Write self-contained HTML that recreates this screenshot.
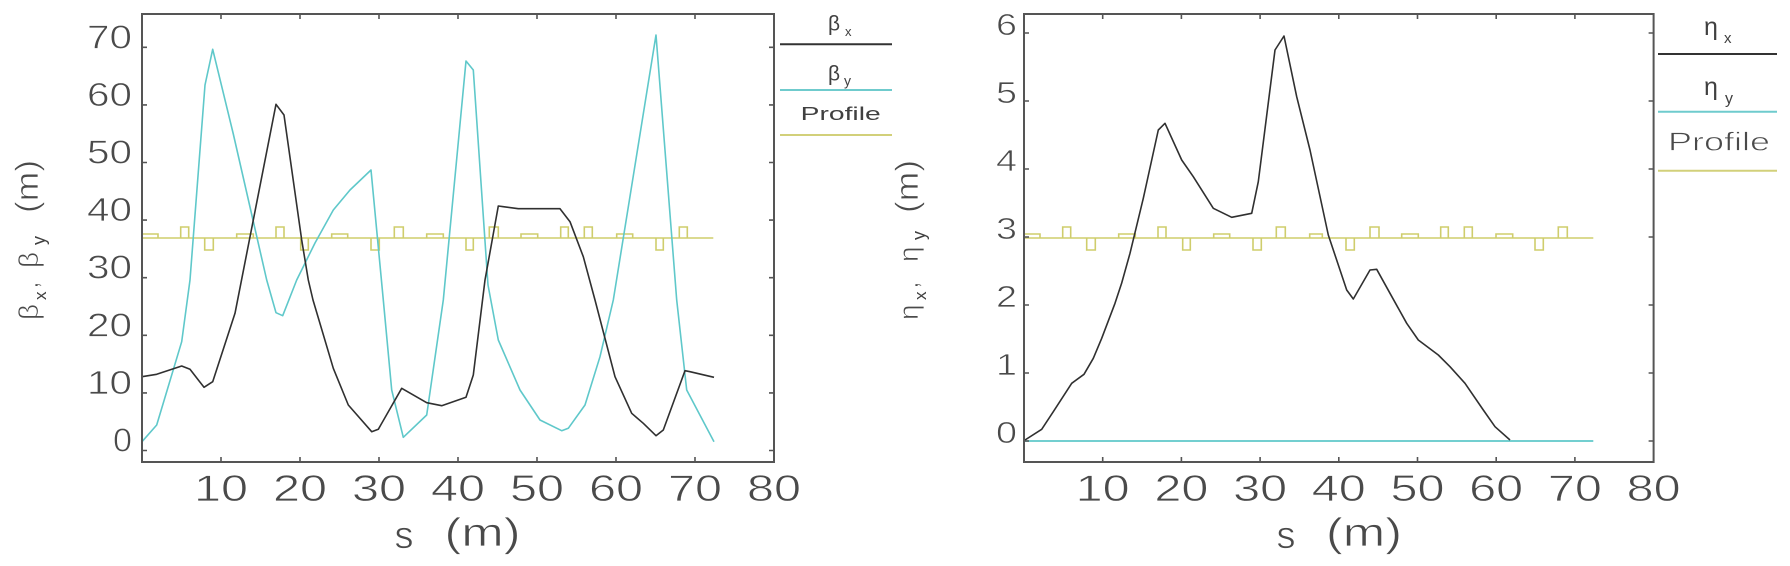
<!DOCTYPE html>
<html>
<head>
<meta charset="utf-8">
<style>
html,body{margin:0;padding:0;background:#fff;}
svg{display:block;}
text{font-family:"Liberation Sans","DejaVu Sans",sans-serif;fill:#4a4a4a;stroke:#fff;stroke-width:0.7px;}
text.s{stroke:none;fill:#404040;}
</style>
</head>
<body>
<svg width="1790" height="566" viewBox="0 0 1790 566" xmlns="http://www.w3.org/2000/svg">
<rect width="1790" height="566" fill="#fff"/>

<!-- ================= LEFT PLOT ================= -->
<path d="M142,238 V234 H158 V238 H180.7 V227 H188.7 V238 H204.7 V250 H213.3 V238 H236.7 V234 H253.3 V238 H276 V227 H284 V238 H300.7 V250 H308.3 V238 H331.7 V234 H347.7 V238 H371 V250 H379.3 V238 H394.3 V227 H403.3 V238 H426.7 V234 H443.3 V238 H466 V250 H473.3 V238 H489.3 V227 H498.3 V238 H521 V234 H537.7 V238 H560.7 V227 H568.3 V238 H584.3 V227 H592.3 V238 H616.7 V234 H632.7 V238 H656 V250 H663.3 V238 H679.3 V227 H687.3 V238 H713.3 M142,238 H713.3" fill="none" stroke="#cfcd6c" stroke-width="1.6"/>
<path d="M142,441.7 L156.7,425 L181.7,341.7 L190,280 L205,85 L212.7,49.3 L233.3,134 L266.7,280 L276,312.7 L282.7,315.7 L296.7,280 L315,243 L333.3,210 L350,190 L371,170 L383.3,300 L391.7,390 L403.3,437.3 L426.7,415 L443.3,300 L466,61 L473.3,70 L488,285 L498.3,340 L520,390 L540,420 L561.7,430.7 L568.3,428.3 L585,405 L600,356.7 L613.3,300 L656,35 L676.7,300 L686.7,390 L714,441.7" fill="none" stroke="#5fc8ca" stroke-width="1.6" stroke-linejoin="round"/>
<path d="M142,376.7 L156.7,374.3 L181.7,366 L190,369.3 L204,387.3 L212.7,381.7 L235,313.3 L276,104.3 L284,115 L301.7,240 L308.3,280 L313,300 L333.3,368.3 L348.3,405 L371.7,431.7 L378.3,429.3 L401.7,388.3 L426.7,402.7 L441.7,405.7 L466,397.3 L473.3,375 L485,280 L498.3,206 L503.3,206.7 L518.3,208.7 L560,208.7 L570,221.7 L583.3,256.7 L595,300 L615,376.7 L631.7,413.3 L643.3,423.3 L656,435.7 L663.3,430 L685,370.7 L690,371.7 L714,377.3" fill="none" stroke="#303030" stroke-width="1.6" stroke-linejoin="round"/>

<rect x="142" y="14" width="632" height="448" fill="none" stroke="#555" stroke-width="2"/>
<g stroke="#555" stroke-width="1.6">
<path d="M221,462 V457 M300,462 V457 M379,462 V457 M458,462 V457 M537,462 V457 M616,462 V457 M695,462 V457"/>
<path d="M221,14 V19 M300,14 V19 M379,14 V19 M458,14 V19 M537,14 V19 M616,14 V19 M695,14 V19"/>
<path d="M142,450.5 H147 M142,392.9 H147 M142,335.3 H147 M142,277.7 H147 M142,220.1 H147 M142,162.5 H147 M142,104.9 H147 M142,47.3 H147"/>
<path d="M774,450.5 H769 M774,392.9 H769 M774,335.3 H769 M774,277.7 H769 M774,220.1 H769 M774,162.5 H769 M774,104.9 H769 M774,47.3 H769"/>
</g>
<g font-size="33" text-anchor="end">
<text x="132" y="451.5" textLength="19" lengthAdjust="spacingAndGlyphs">0</text>
<text x="132" y="393.9" textLength="45" lengthAdjust="spacingAndGlyphs">10</text>
<text x="132" y="336.3" textLength="45" lengthAdjust="spacingAndGlyphs">20</text>
<text x="132" y="278.7" textLength="45" lengthAdjust="spacingAndGlyphs">30</text>
<text x="132" y="221.1" textLength="45" lengthAdjust="spacingAndGlyphs">40</text>
<text x="132" y="163.5" textLength="45" lengthAdjust="spacingAndGlyphs">50</text>
<text x="132" y="105.9" textLength="45" lengthAdjust="spacingAndGlyphs">60</text>
<text x="132" y="48.3" textLength="45" lengthAdjust="spacingAndGlyphs">70</text>
</g>
<g font-size="37" text-anchor="middle">
<text x="221" y="501" textLength="54" lengthAdjust="spacingAndGlyphs">10</text>
<text x="300" y="501" textLength="54" lengthAdjust="spacingAndGlyphs">20</text>
<text x="379" y="501" textLength="54" lengthAdjust="spacingAndGlyphs">30</text>
<text x="458" y="501" textLength="54" lengthAdjust="spacingAndGlyphs">40</text>
<text x="537" y="501" textLength="54" lengthAdjust="spacingAndGlyphs">50</text>
<text x="616" y="501" textLength="54" lengthAdjust="spacingAndGlyphs">60</text>
<text x="695" y="501" textLength="54" lengthAdjust="spacingAndGlyphs">70</text>
<text x="774" y="501" textLength="54" lengthAdjust="spacingAndGlyphs">80</text>
</g>
<text x="404" y="548" font-size="38" text-anchor="middle">s</text>
<text x="482.5" y="546" font-size="40" text-anchor="middle" textLength="76" lengthAdjust="spacingAndGlyphs">(m)</text>
<g transform="translate(38,322) rotate(-90)">
<text x="2" y="0" font-size="28">β</text>
<text class="s" x="22" y="8" font-size="17">x</text>
<text x="33" y="0" font-size="28">,</text>
<text x="54" y="0" font-size="28">β</text>
<text class="s" x="77" y="7" font-size="18">y</text>
<text x="109" y="0" font-size="32" textLength="53" lengthAdjust="spacingAndGlyphs">(m)</text>
</g>
<text class="s" x="828" y="30.6" font-size="21">β</text>
<text class="s" x="845" y="36" font-size="13">x</text>
<line x1="780" y1="44.3" x2="892" y2="44.3" stroke="#333" stroke-width="2"/>
<text class="s" x="828" y="80.6" font-size="21">β</text>
<text class="s" x="844" y="85.6" font-size="14">y</text>
<line x1="780" y1="90" x2="892" y2="90" stroke="#6fcbcd" stroke-width="2"/>
<text class="s" x="840.7" y="120" font-size="18.5" text-anchor="middle" textLength="80" lengthAdjust="spacingAndGlyphs">Profile</text>
<line x1="780" y1="135" x2="892" y2="135" stroke="#d2d07a" stroke-width="2"/>

<!-- ================= RIGHT PLOT ================= -->
<path transform="translate(882,0)" d="M142,238 V234 H158 V238 H180.7 V227 H188.7 V238 H204.7 V250 H213.3 V238 H236.7 V234 H253.3 V238 H276 V227 H284 V238 H300.7 V250 H308.3 V238 H331.7 V234 H347.7 V238 H371 V250 H379.3 V238 H394.3 V227 H403.3 V238 H427.7 V234 H440.3 V238 H464 V250 H472.3 V238 H488 V227 H497 V238 H519.7 V234 H536.3 V238 H558.7 V227 H566.3 V238 H582.3 V227 H590.3 V238 H614 V234 H630.7 V238 H653 V250 H661.3 V238 H676.3 V227 H685.3 V238 H711.3 M142,238 H711.3" fill="none" stroke="#cfcd6c" stroke-width="1.6"/>
<line x1="1024" y1="441" x2="1593.3" y2="441" stroke="#5fc8ca" stroke-width="1.8"/>
<path d="M1025,440 L1041.7,429.3 L1053.3,411.7 L1071.7,383.3 L1084,374.3 L1093.3,358.3 L1101.7,338.3 L1115,303.3 L1121.7,283 L1130,253.3 L1143.3,198.3 L1158.3,130 L1165,123.3 L1181.7,160 L1193.3,176.7 L1213.3,208.3 L1231.7,217.3 L1251.7,213.3 L1258.3,181.7 L1275,50 L1284,36 L1296.7,96.7 L1310,150 L1328.3,235 L1346.7,290 L1353.3,299 L1370,270 L1376.7,269.3 L1390,293.3 L1406.7,323.3 L1418.3,340 L1438.3,355 L1450,366.7 L1465,383.3 L1483.3,410 L1495,426.7 L1510,440" fill="none" stroke="#303030" stroke-width="1.6" stroke-linejoin="round"/>

<rect x="1024" y="14" width="629.6" height="448" fill="none" stroke="#555" stroke-width="2"/>
<g stroke="#555" stroke-width="1.6">
<path d="M1102.7,462 V457 M1181.4,462 V457 M1260.1,462 V457 M1338.8,462 V457 M1417.5,462 V457 M1496.2,462 V457 M1574.9,462 V457"/>
<path d="M1102.7,14 V19 M1181.4,14 V19 M1260.1,14 V19 M1338.8,14 V19 M1417.5,14 V19 M1496.2,14 V19 M1574.9,14 V19"/>
<path d="M1024,441 H1029 M1024,373 H1029 M1024,305 H1029 M1024,237 H1029 M1024,169 H1029 M1024,101 H1029 M1024,33 H1029"/>
<path d="M1653.6,441 H1648.6 M1653.6,373 H1648.6 M1653.6,305 H1648.6 M1653.6,237 H1648.6 M1653.6,169 H1648.6 M1653.6,101 H1648.6 M1653.6,33 H1648.6"/>
</g>
<g font-size="31" text-anchor="end">
<text x="1017" y="443" textLength="21" lengthAdjust="spacingAndGlyphs">0</text>
<text x="1017" y="375" textLength="21" lengthAdjust="spacingAndGlyphs">1</text>
<text x="1017" y="307" textLength="21" lengthAdjust="spacingAndGlyphs">2</text>
<text x="1017" y="239" textLength="21" lengthAdjust="spacingAndGlyphs">3</text>
<text x="1017" y="171" textLength="21" lengthAdjust="spacingAndGlyphs">4</text>
<text x="1017" y="103" textLength="21" lengthAdjust="spacingAndGlyphs">5</text>
<text x="1017" y="35" textLength="21" lengthAdjust="spacingAndGlyphs">6</text>
</g>
<g font-size="37" text-anchor="middle">
<text x="1102.7" y="501" textLength="54" lengthAdjust="spacingAndGlyphs">10</text>
<text x="1181.4" y="501" textLength="54" lengthAdjust="spacingAndGlyphs">20</text>
<text x="1260.1" y="501" textLength="54" lengthAdjust="spacingAndGlyphs">30</text>
<text x="1338.8" y="501" textLength="54" lengthAdjust="spacingAndGlyphs">40</text>
<text x="1417.5" y="501" textLength="54" lengthAdjust="spacingAndGlyphs">50</text>
<text x="1496.2" y="501" textLength="54" lengthAdjust="spacingAndGlyphs">60</text>
<text x="1574.9" y="501" textLength="54" lengthAdjust="spacingAndGlyphs">70</text>
<text x="1653.6" y="501" textLength="54" lengthAdjust="spacingAndGlyphs">80</text>
</g>
<text x="1286" y="548" font-size="38" text-anchor="middle">s</text>
<text x="1364" y="546" font-size="40" text-anchor="middle" textLength="76" lengthAdjust="spacingAndGlyphs">(m)</text>
<g transform="translate(918,322) rotate(-90)">
<text x="2" y="0" font-size="28">η</text>
<text class="s" x="22" y="8" font-size="17">x</text>
<text x="33" y="0" font-size="28">,</text>
<text x="60" y="0" font-size="28">η</text>
<text class="s" x="82" y="7" font-size="18">y</text>
<text x="109" y="0" font-size="32" textLength="53" lengthAdjust="spacingAndGlyphs">(m)</text>
</g>
<text class="s" x="1704" y="35" font-size="25">η</text>
<text class="s" x="1724" y="43" font-size="15">x</text>
<line x1="1658" y1="54" x2="1777" y2="54" stroke="#333" stroke-width="2"/>
<text class="s" x="1704" y="95" font-size="25">η</text>
<text class="s" x="1725" y="103.5" font-size="16">y</text>
<line x1="1658" y1="111.7" x2="1777" y2="111.7" stroke="#6fcbcd" stroke-width="2"/>
<text x="1719" y="150.7" font-size="26" text-anchor="middle" textLength="102" lengthAdjust="spacingAndGlyphs">Profile</text>
<line x1="1658" y1="170.7" x2="1777" y2="170.7" stroke="#d2d07a" stroke-width="2"/>
</svg>
</body>
</html>
